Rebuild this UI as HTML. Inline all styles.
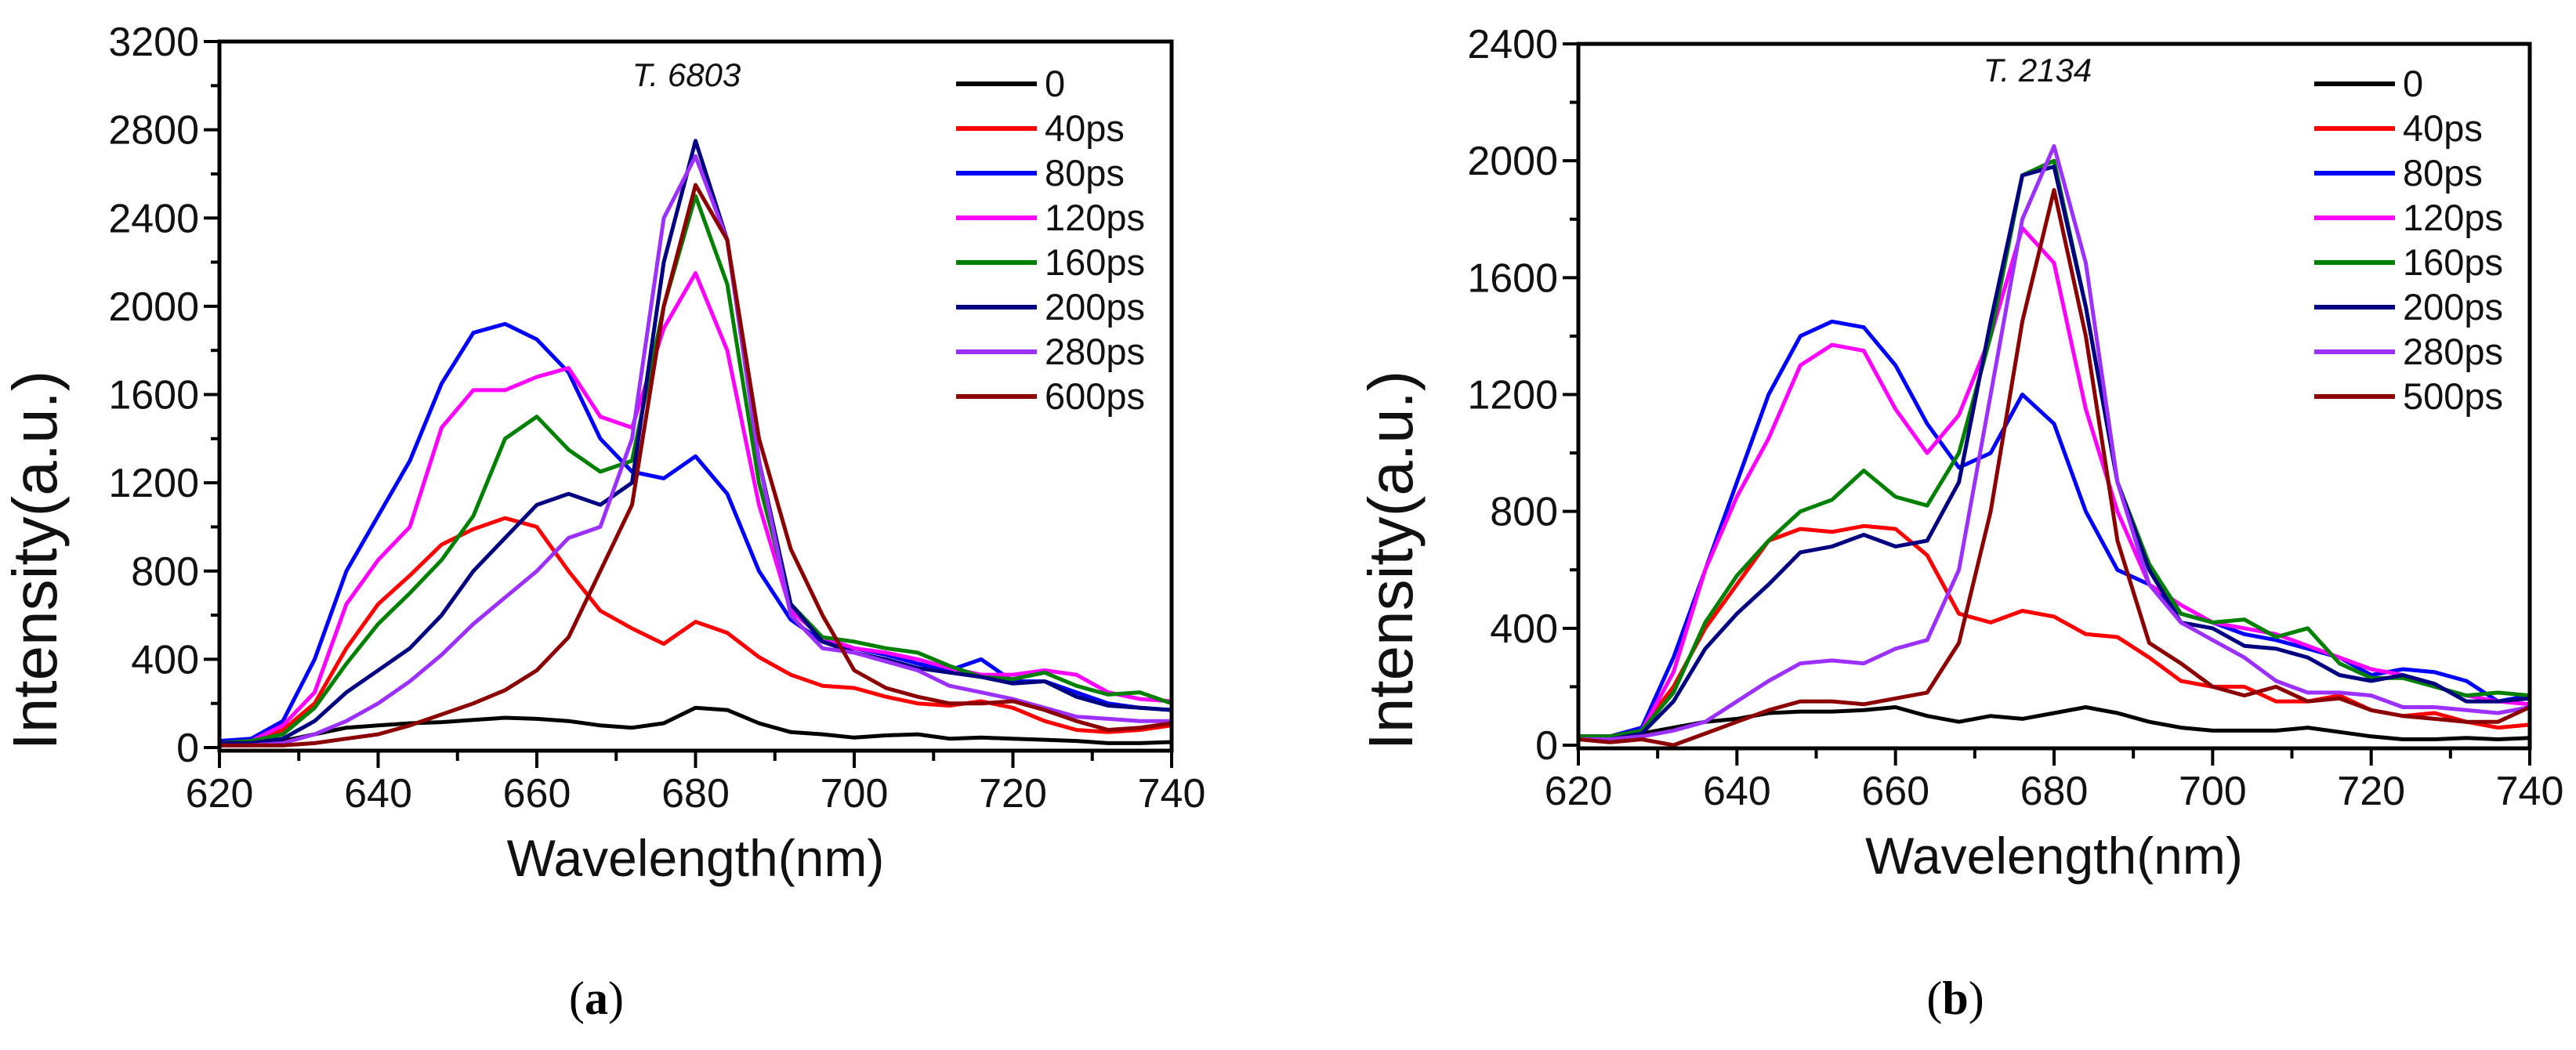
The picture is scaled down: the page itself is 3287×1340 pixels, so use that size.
<!DOCTYPE html>
<html><head><meta charset="utf-8"><style>
html,body{margin:0;padding:0;background:#fff;}
svg{display:block;font-family:"Liberation Sans",Arial,sans-serif;}
</style></head><body>
<svg id="fig" width="3287" height="1340" viewBox="0 0 3287 1340" xmlns="http://www.w3.org/2000/svg"></svg>
<script>
const wavelengths = [620,624,628,632,636,640,644,648,652,656,660,664,668,672,676,680,684,688,692,696,700,704,708,712,716,720,724,728,732,736,740];
const xTicks = [620,640,660,680,700,720,740];
const seriesColors = ["#000000","#ff0000","#0000ff","#ff00ff","#008000","#000080","#9b30ff","#8b0000"];

const aLabels = ["0","40ps","80ps","120ps","160ps","200ps","280ps","600ps"];
const aYTicks = [0,400,800,1200,1600,2000,2400,2800,3200];
const a0 = [20,20,30,60,90,100,110,115,125,135,130,120,100,90,110,180,170,110,70,60,45,55,60,40,45,40,35,30,20,20,25];
const a40 = [30,30,80,200,450,650,780,920,990,1040,1000,800,620,540,470,570,520,410,330,280,270,230,200,190,210,180,120,80,70,80,100];
const a80 = [30,40,120,400,800,1050,1300,1650,1880,1920,1850,1700,1400,1250,1220,1320,1150,800,580,480,450,420,380,350,400,300,300,250,200,180,170];
const a120 = [20,30,100,250,650,850,1000,1450,1620,1620,1680,1720,1500,1450,1900,2150,1800,1100,620,500,450,430,400,360,330,330,350,330,250,220,210];
const a160 = [20,30,60,180,380,560,700,850,1050,1400,1500,1350,1250,1300,2000,2500,2100,1200,650,500,480,450,430,370,320,310,340,280,240,250,200];
const a200 = [20,20,40,120,250,350,450,600,800,950,1100,1150,1100,1200,2200,2750,2300,1300,650,480,430,400,360,340,320,290,300,230,190,180,170];
const a280 = [10,10,20,60,120,200,300,420,560,680,800,950,1000,1400,2400,2680,2300,1300,600,450,430,390,350,280,250,220,180,140,130,120,120];
const a600 = [10,10,10,20,40,60,100,150,200,260,350,500,800,1100,2000,2550,2300,1400,900,600,350,270,230,200,200,210,170,120,80,90,110];

const bLabels = ["0","40ps","80ps","120ps","160ps","200ps","280ps","500ps"];
const bYTicks = [0,400,800,1200,1600,2000,2400];
const b0 = [30,30,40,60,80,90,110,115,115,120,130,100,80,100,90,110,130,110,80,60,50,50,50,60,45,30,20,20,25,20,25];
const b40 = [30,30,60,200,400,550,700,740,730,750,740,650,450,420,460,440,380,370,300,220,200,200,150,150,170,120,100,110,80,60,70];
const b80 = [30,30,60,300,600,900,1200,1400,1450,1430,1300,1100,950,1000,1200,1100,800,600,550,450,420,380,360,330,300,240,260,250,220,150,170];
const b120 = [30,30,50,250,600,850,1050,1300,1370,1350,1150,1000,1130,1400,1770,1650,1150,800,550,480,420,400,380,340,300,260,240,200,170,150,140];
const b160 = [30,30,50,180,420,580,700,800,840,940,850,820,1000,1400,1950,2000,1500,900,620,450,420,430,370,400,280,230,230,200,170,180,170];
const b200 = [20,20,40,150,330,450,550,660,680,720,680,700,900,1450,1950,1980,1500,900,600,420,400,340,330,300,240,220,240,210,150,150,160];
const b280 = [20,20,30,50,80,150,220,280,290,280,330,360,600,1200,1800,2050,1650,900,550,420,360,300,220,180,180,170,130,130,120,110,130];
const b500 = [20,10,20,0,40,80,120,150,150,140,160,180,350,800,1450,1900,1400,700,350,280,200,170,200,150,160,120,100,90,80,80,130];

const NS = "http://www.w3.org/2000/svg";
const svg = document.getElementById('fig');
function mk(tag, attrs, parent, text){
  const e = document.createElementNS(NS, tag);
  for (const k in attrs) e.setAttribute(k, attrs[k]);
  if (text !== undefined) e.textContent = text;
  (parent||svg).appendChild(e);
  return e;
}

function drawChart(cfg){
  const g = mk('g', {});
  
  
  const xs = v => cfg.x0 + (v - 620) / 120 * (cfg.x1 - cfg.x0);
  const ys = v => cfg.y0 - v / cfg.ymax * (cfg.y0 - cfg.y1);
  cfg.series.forEach((vals, i) => {
    const d = vals.map((v, j) => (j ? 'L' : 'M') + xs(wavelengths[j]).toFixed(1) + ' ' + ys(v).toFixed(1)).join(' ');
    const p = mk('path', {d: d, fill: 'none', stroke: seriesColors[i], 'stroke-width': 5, 'stroke-linejoin': 'round'}, g);
    
    
  });
  const fr = mk('rect', {x: cfg.x0, y: cfg.y1, width: cfg.x1 - cfg.x0, height: cfg.yb - cfg.y1, fill: 'none', stroke: '#000', 'stroke-width': 5}, g);
  
  
  const step = cfg.yTicks[1] - cfg.yTicks[0];
  for (let v = 0; v <= cfg.ymax; v += step / 2) {
    const major = cfg.yTicks.indexOf(v) >= 0;
    mk('line', {x1: cfg.x0 - (major ? 20 : 11), x2: cfg.x0, y1: ys(v), y2: ys(v), stroke: '#000', 'stroke-width': 4}, g);
  }
  cfg.yTicks.forEach(v => {
    const t = mk('text', {x: cfg.x0 - 26, y: ys(v) + 18, 'font-size': 52, 'text-anchor': 'end', fill: '#111'}, g, String(v));
    
    
  });
  for (let v = 620; v <= 740; v += 10) {
    const major = xTicks.indexOf(v) >= 0;
    mk('line', {x1: xs(v), x2: xs(v), y1: cfg.yb, y2: cfg.yb + (major ? 22 : 13), stroke: '#000', 'stroke-width': 4}, g);
  }
  xTicks.forEach(v => {
    const t = mk('text', {x: xs(v), y: cfg.yb + 72, 'font-size': 52, 'text-anchor': 'middle', fill: '#111'}, g, String(v));
    
    
  });
  const xt = mk('text', {x: (cfg.x0 + cfg.x1) / 2, y: cfg.yb + 160, 'font-size': 66, 'text-anchor': 'middle', fill: '#111'}, g, 'Wavelength(nm)');
  
  
  const yt = mk('text', {x: 0, y: 0, 'font-size': 80, 'text-anchor': 'middle', fill: '#111', transform: 'translate(' + cfg.ytx + ',' + cfg.yty + ') rotate(-90)'}, g, 'Intensity(a.u.)');
  
  
  const tt = mk('text', {x: cfg.tx, y: cfg.ty, 'font-size': 42, 'font-style': 'italic', 'text-anchor': 'middle', fill: '#111'}, g, cfg.title);
  
  
  cfg.labels.forEach((lab, i) => {
    const y = cfg.ly + i * 57;
    const lg = mk('g', {}, g);
    
    
    mk('line', {x1: cfg.lx, x2: cfg.lx + 103, y1: y, y2: y, stroke: seriesColors[i], 'stroke-width': 6}, lg);
    mk('text', {x: cfg.lx + 113, y: y + 16, 'font-size': 47, fill: '#111'}, lg, lab);
  });
  const pl = mk('text', {x: cfg.px, y: 1294, 'font-size': 60, 'font-family': '"Liberation Serif",serif', 'text-anchor': 'middle', fill: '#000'}, g);
  mk('tspan', {}, pl, '(');
  mk('tspan', {'font-weight': 'bold'}, pl, cfg.panel);
  mk('tspan', {}, pl, ')');
  
  
}

drawChart({name: 'chart-a', x0: 280, x1: 1495, y0: 954, y1: 53, yb: 958, ymax: 3200, yTicks: aYTicks,
  series: [a0,a40,a80,a120,a160,a200,a280,a600], labels: aLabels, title: 'T. 6803', tx: 876, ty: 110,
  lx: 1220, ly: 107, ytx: 72, yty: 715, px: 761, panel: 'a'});
drawChart({name: 'chart-b', x0: 2014, x1: 3228, y0: 951, y1: 56, yb: 955, ymax: 2400, yTicks: bYTicks,
  series: [b0,b40,b80,b120,b160,b200,b280,b500], labels: bLabels, title: 'T. 2134', tx: 2600, ty: 104,
  lx: 2953, ly: 107, ytx: 1802, yty: 715, px: 2495, panel: 'b'});
</script>
</body></html>
